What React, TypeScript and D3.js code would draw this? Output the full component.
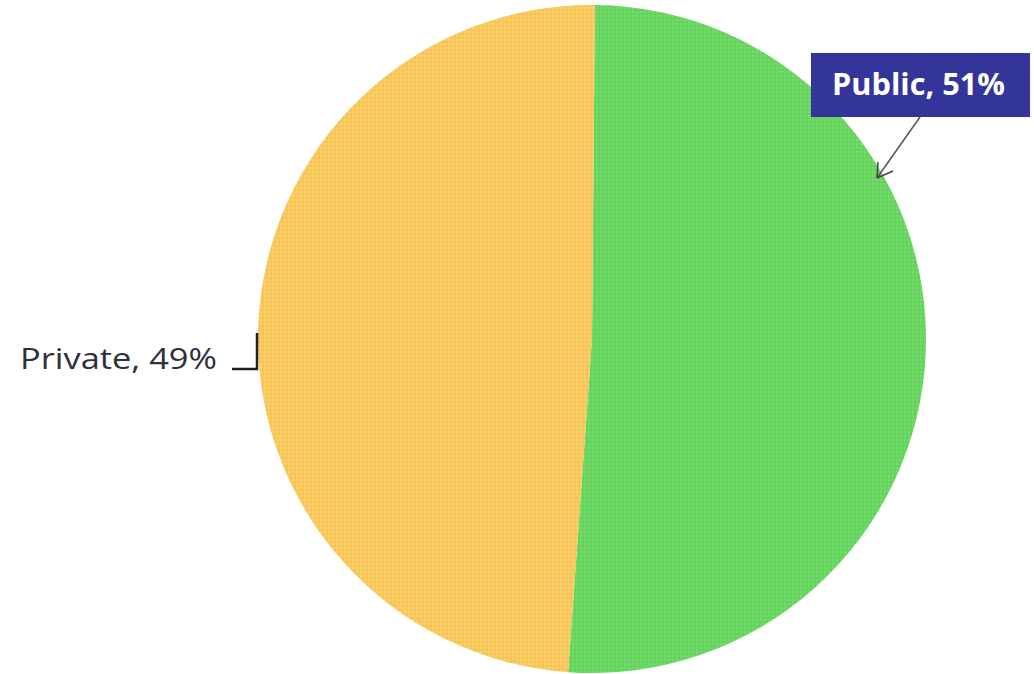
import React from "react";
import * as d3 from "d3";

const categories = ["Public", "Private"];
const values = [51, 49];
const colors = ["#68D760", "#F9C95B"];

export default function App() {
  const W = 1034, H = 674;
  const cx = 592, cy = 339, r = 334;
  const startRad = (0.5 * Math.PI) / 180;
  const pie = d3.pie<number>().sort(null).startAngle(startRad).endAngle(startRad + 2 * Math.PI);
  const arcs = pie(values);
  const arc = d3.arc<d3.PieArcDatum<number>>().innerRadius(0).outerRadius(r);
  return (
    <svg width={W} height={H} style={{ position: "absolute", left: 0, top: 0, background: "#fff" }}>
      <defs>
        <pattern id="dots" width="4" height="4" patternUnits="userSpaceOnUse">
          <rect width="4" height="4" fill="rgba(0,0,0,0)" />
          <circle cx="1" cy="1" r="0.8" fill="rgba(255,255,255,0.2)" />
          <circle cx="3" cy="3" r="0.8" fill="rgba(0,0,0,0.07)" />
        </pattern>
      </defs>
      <g transform={`translate(${cx},${cy})`}>
        {arcs.map((a, i) => (
          <g key={categories[i]}>
            <path d={arc(a) || ""} fill={colors[i]} />
            <path d={arc(a) || ""} fill="url(#dots)" />
          </g>
        ))}
      </g>
      {/* Public label */}
      <rect x={811} y={53} width={219} height={64} fill="#34359A" />
      <text x={832} y={95} fill="#fff" fontFamily="'Open Sans', sans-serif" fontWeight="bold" fontSize={30}
        textLength={173} lengthAdjust="spacingAndGlyphs">
        {`${categories[0]}, ${values[0]}%`}
      </text>
      <line x1={920} y1={117} x2={877} y2={178} stroke="#555" strokeWidth={1.5} />
      <path d="M877,178 L878,162 M877,178 L893,171" stroke="#444" strokeWidth={1.5} fill="none" />
      {/* Private label */}
      <text x={20} y={369} fill="#2f2f3a" fontFamily="'Open Sans', sans-serif" fontSize={30}
        textLength={197} lengthAdjust="spacingAndGlyphs">
        {`${categories[1]}, ${values[1]}%`}
      </text>
      <path d="M232,369 L257,369 L257,333" stroke="#222" strokeWidth={2.5} fill="none" />
    </svg>
  );
}
